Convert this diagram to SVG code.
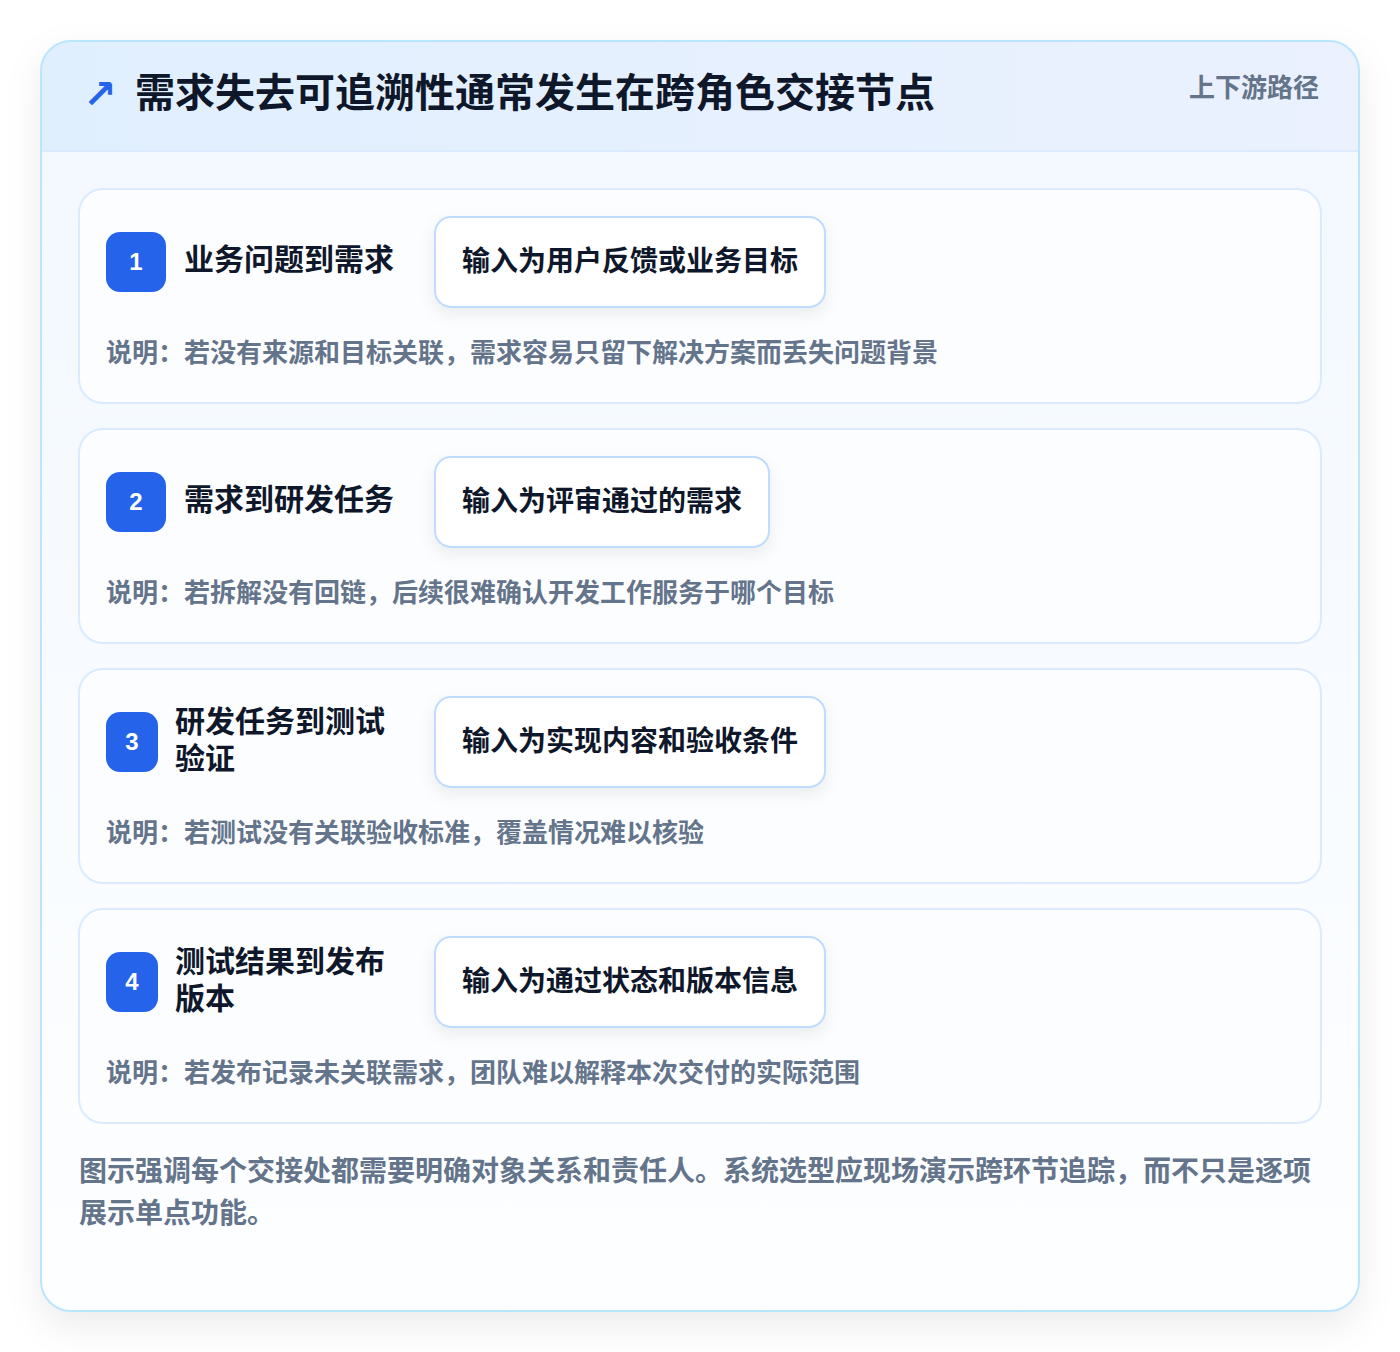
<svg xmlns="http://www.w3.org/2000/svg" width="1400" height="1352" viewBox="0 0 1400 1352">
  <defs>
    <linearGradient id="hdr" x1="0" y1="0" x2="1" y2="0">
      <stop offset="0" stop-color="#e0effe"/>
      <stop offset="1" stop-color="#ebf1fe"/>
    </linearGradient>
    <linearGradient id="body" x1="0" y1="0" x2="0" y2="1">
      <stop offset="0" stop-color="#f2f8ff"/>
      <stop offset="1" stop-color="#fdfeff"/>
    </linearGradient>
    <filter id="cardShadow" x="-10%" y="-10%" width="120%" height="125%">
      <feDropShadow dx="0" dy="14" stdDeviation="18" flood-color="#0f172a" flood-opacity="0.08"/>
    </filter>
    <filter id="boxShadow" x="-10%" y="-20%" width="120%" height="160%">
      <feDropShadow dx="0" dy="6" stdDeviation="8" flood-color="#0f172a" flood-opacity="0.07"/>
    </filter>
    <clipPath id="cardClip">
      <rect x="41" y="41" width="1318" height="1270" rx="30"/>
    </clipPath>
  </defs>
  <style>
    .cjk { font-family: "Noto Sans CJK SC", "Noto Sans", sans-serif; }
    .title { font-size: 40px; font-weight: 700; fill: #0f172a; }
    .tag { font-size: 26px; font-weight: 600; fill: #64748b; }
    .step { fill: #fcfdff; stroke: #dbeafe; stroke-width: 2; }
    .badge { fill: #2563eb; }
    .num { font-family: "Liberation Sans", Arial, sans-serif; font-size: 24px; font-weight: 700; fill: #ffffff; text-anchor: middle; }
    .stitle { font-size: 30px; font-weight: 700; fill: #0f172a; }
    .box { fill: #ffffff; stroke: #bfdbfe; stroke-width: 2; }
    .btext { font-size: 28px; font-weight: 700; fill: #0f172a; }
    .desc { font-size: 26px; font-weight: 600; fill: #64748b; }
    .foot { font-size: 28px; font-weight: 600; fill: #64748b; }
  </style>
  <rect width="1400" height="1352" fill="#ffffff"/>

  <g id="card">
    <rect x="41" y="41" width="1318" height="1270" rx="30" fill="url(#body)" filter="url(#cardShadow)"/>
    <g clip-path="url(#cardClip)">
      <rect x="41" y="41" width="1318" height="110" fill="url(#hdr)"/>
      <line x1="41" y1="151" x2="1359" y2="151" stroke="#dbeafe" stroke-width="2"/>
    </g>
    <rect x="41" y="41" width="1318" height="1270" rx="30" fill="none" stroke="#bae6fd" stroke-width="2"/>
  </g>

  <g id="header">
    <text x="83" y="108" font-family="DejaVu Sans, sans-serif" font-size="40" font-weight="700" fill="#2563eb">↗</text>
    <text class="cjk title" x="135" y="107">需求失去可追溯性通常发生在跨角色交接节点</text>
    <text class="cjk tag" x="1319" y="97" text-anchor="end">上下游路径</text>
  </g>

  <g id="step1">
    <rect class="step" x="79" y="189" width="1242" height="214" rx="24"/>
    <rect class="badge" x="106" y="232" width="60" height="60" rx="14"/>
    <text class="num" x="136" y="270">1</text>
    <text class="cjk stitle" x="184" y="270">业务问题到需求</text>
    <rect class="box" x="435" y="217" width="390" height="90" rx="16" filter="url(#boxShadow)"/>
    <text class="cjk btext" x="462" y="271">输入为用户反馈或业务目标</text>
    <text class="cjk desc" x="106" y="362">说明：若没有来源和目标关联，需求容易只留下解决方案而丢失问题背景</text>
  </g>

  <g id="step2">
    <rect class="step" x="79" y="429" width="1242" height="214" rx="24"/>
    <rect class="badge" x="106" y="472" width="60" height="60" rx="14"/>
    <text class="num" x="136" y="510">2</text>
    <text class="cjk stitle" x="184" y="510">需求到研发任务</text>
    <rect class="box" x="435" y="457" width="334" height="90" rx="16" filter="url(#boxShadow)"/>
    <text class="cjk btext" x="462" y="511">输入为评审通过的需求</text>
    <text class="cjk desc" x="106" y="602">说明：若拆解没有回链，后续很难确认开发工作服务于哪个目标</text>
  </g>

  <g id="step3">
    <rect class="step" x="79" y="669" width="1242" height="214" rx="24"/>
    <rect class="badge" x="106" y="712" width="52" height="60" rx="14"/>
    <text class="num" x="132" y="750">3</text>
    <text class="cjk stitle" x="175" y="732">研发任务到测试<tspan x="175" dy="37">验证</tspan></text>
    <rect class="box" x="435" y="697" width="390" height="90" rx="16" filter="url(#boxShadow)"/>
    <text class="cjk btext" x="462" y="751">输入为实现内容和验收条件</text>
    <text class="cjk desc" x="106" y="842">说明：若测试没有关联验收标准，覆盖情况难以核验</text>
  </g>

  <g id="step4">
    <rect class="step" x="79" y="909" width="1242" height="214" rx="24"/>
    <rect class="badge" x="106" y="952" width="52" height="60" rx="14"/>
    <text class="num" x="132" y="990">4</text>
    <text class="cjk stitle" x="175" y="972">测试结果到发布<tspan x="175" dy="37">版本</tspan></text>
    <rect class="box" x="435" y="937" width="390" height="90" rx="16" filter="url(#boxShadow)"/>
    <text class="cjk btext" x="462" y="991">输入为通过状态和版本信息</text>
    <text class="cjk desc" x="106" y="1082">说明：若发布记录未关联需求，团队难以解释本次交付的实际范围</text>
  </g>

  <g id="connectors"></g>

  <g id="footer">
    <text class="cjk foot" x="79" y="1181">图示强调每个交接处都需要明确对象关系和责任人。系统选型应现场演示跨环节追踪，而不只是逐项</text>
    <text class="cjk foot" x="79" y="1223">展示单点功能。</text>
  </g>
</svg>
